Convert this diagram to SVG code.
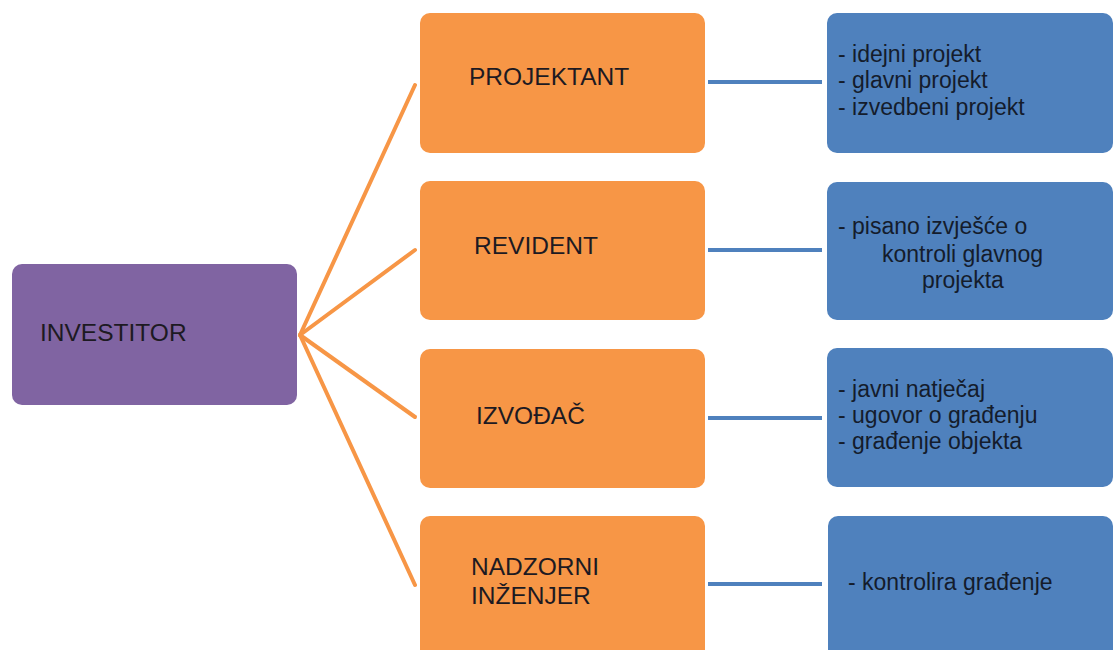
<svg xmlns="http://www.w3.org/2000/svg" width="1113" height="650" viewBox="0 0 1113 650">
<style>
.inv{fill:#8064A2}
.org{fill:#F79646}
.blu{fill:#4F81BD}
.t{font-family:"Liberation Sans",Arial,sans-serif;font-size:24.5px;fill:#1d1a22}
.s{font-family:"Liberation Sans",Arial,sans-serif;font-size:23px;fill:#141c2c}
.co{stroke:#F79646;stroke-width:4;fill:none;stroke-linecap:round}
.cb{stroke:#4F81BD;stroke-width:4;fill:none}
</style>
<rect width="1113" height="650" fill="#ffffff"/>
<g id="connectors">
<line class="co" x1="300" y1="335" x2="415" y2="85"/>
<line class="co" x1="300" y1="335" x2="415" y2="250"/>
<line class="co" x1="300" y1="335" x2="415" y2="417"/>
<line class="co" x1="300" y1="335" x2="415" y2="585"/>
<line class="cb" x1="708" y1="82" x2="822" y2="82"/>
<line class="cb" x1="708" y1="250" x2="822" y2="250"/>
<line class="cb" x1="708" y1="418" x2="822" y2="418"/>
<line class="cb" x1="708" y1="584" x2="822" y2="584"/>
</g>
<g id="investitor">
<rect class="inv" x="12" y="264" width="285" height="141" rx="10"/>
<text class="t" x="40" y="341">INVESTITOR</text>
</g>
<g id="projektant">
<rect class="org" x="420" y="13" width="285" height="140" rx="10"/>
<text class="t" x="469" y="85">PROJEKTANT</text>
</g>
<g id="revident">
<rect class="org" x="420" y="181" width="285" height="139" rx="10"/>
<text class="t" x="474" y="254">REVIDENT</text>
</g>
<g id="izvodjac">
<rect class="org" x="420" y="349" width="285" height="139" rx="10"/>
<text class="t" x="476" y="424">IZVOĐAČ</text>
</g>
<g id="nadzorni">
<rect class="org" x="420" y="516" width="285" height="150" rx="10"/>
<text class="t" x="471" y="575">NADZORNI</text>
<text class="t" x="471" y="604">INŽENJER</text>
</g>
<g id="projekti">
<rect class="blu" x="827" y="13" width="286" height="140" rx="10"/>
<text class="s" x="838" y="62">- idejni projekt</text>
<text class="s" x="838" y="88">- glavni projekt</text>
<text class="s" x="838" y="115">- izvedbeni projekt</text>
</g>
<g id="izvjesce">
<rect class="blu" x="827" y="182" width="286" height="138" rx="10"/>
<text class="s" x="838" y="234">- pisano izvješće o</text>
<text class="s" x="882" y="262">kontroli glavnog</text>
<text class="s" x="922" y="288">projekta</text>
</g>
<g id="gradjenje">
<rect class="blu" x="827" y="348" width="286" height="139" rx="10"/>
<text class="s" x="838" y="397">- javni natječaj</text>
<text class="s" x="838" y="423">- ugovor o građenju</text>
<text class="s" x="838" y="449">- građenje objekta</text>
</g>
<g id="kontrola">
<rect class="blu" x="828" y="516" width="285" height="150" rx="10"/>
<text class="s" x="848" y="590">- kontrolira građenje</text>
</g>
</svg>
